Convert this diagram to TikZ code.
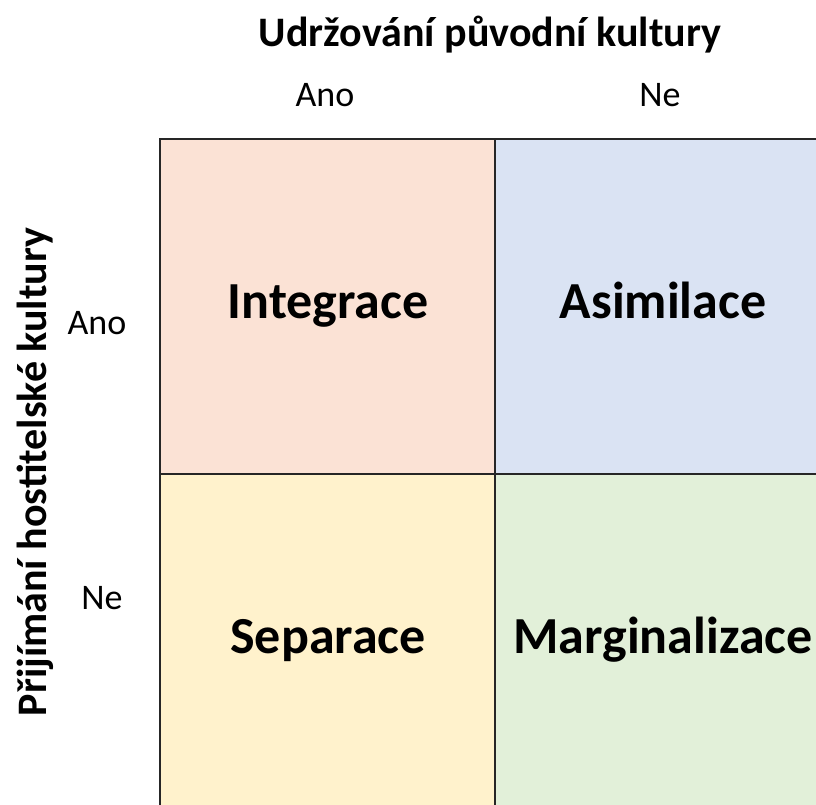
\documentclass[tikz,border=0pt]{standalone}
\usepackage{fontspec}
\setmainfont{Carlito}
\definecolor{integr}{HTML}{FBE2D5}
\definecolor{asimil}{HTML}{DAE3F3}
\definecolor{separ}{HTML}{FFF2CC}
\definecolor{margin}{HTML}{E2F0D9}
\definecolor{gridln}{HTML}{262626}
\tikzset{
  cell/.style={draw=gridln, line width=2pt},
  strat/.style={anchor=base, font=\fontsize{52}{60}\selectfont\bfseries},
  axis/.style={font=\fontsize{42}{50}\selectfont\bfseries},
  ans/.style={font=\fontsize{36}{42}\selectfont}
}
\begin{document}
\begin{tikzpicture}[x=1pt,y=-1pt]
\clip (0,0) rectangle (816,805);
\fill[white] (0,0) rectangle (816,805);
% cells
\draw[cell, fill=integr] (160,139) rectangle (495,474);
\draw[cell, fill=asimil] (495,139) rectangle (830,474);
\draw[cell, fill=separ] (160,474) rectangle (495,809);
\draw[cell, fill=margin] (495,474) rectangle (830,809);
% labels
\node[strat] (integrace) at (328,318) {Integrace};
\node[strat] (asimilace) at (663,318) {Asimilace};
\node[strat] (separace) at (328,653) {Separace};
\node[strat] (marginal) at (663,653) {Marginalizace};
% axes
\node[axis] (top) at (490,35) {Udržování původní kultury};
\node[ans] (anotop) at (325,95) {Ano};
\node[ans] (netop) at (660,95) {Ne};
\node[axis, rotate=90] (left) at (35,472) {Přijímání hostitelské kultury};
\node[ans] (anoleft) at (97,323) {Ano};
\node[ans] (neleft) at (102,598) {Ne};
\end{tikzpicture}
\end{document}
